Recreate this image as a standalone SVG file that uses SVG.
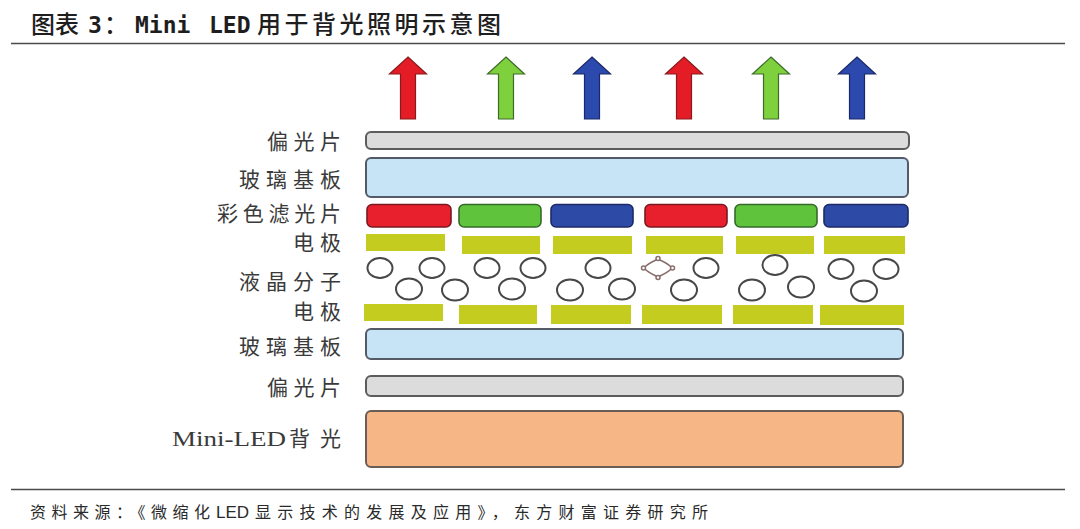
<svg xmlns="http://www.w3.org/2000/svg" xmlns:xlink="http://www.w3.org/1999/xlink" width="1080" height="529" viewBox="0 0 1080 529">
<style>
.title{font-family:"Noto Sans CJK SC","Liberation Sans",sans-serif;font-size:24px;font-weight:500;fill:#1e1e1e}
.tl{font-family:"DejaVu Sans Mono","Liberation Mono",monospace;font-size:23px;font-weight:700;fill:#1e1e1e}
.lbl{font-family:"Noto Sans CJK SC",sans-serif;font-size:21px;fill:#3a3a3a}
.lat{font-family:"Liberation Serif","Noto Sans CJK SC",serif;font-size:22px;fill:#3a3a3a}
.foot{font-family:"Noto Sans CJK SC","Liberation Sans",sans-serif;font-size:16px;fill:#2a2a2a}
.fl{font-family:"Liberation Sans Narrow","Liberation Sans",sans-serif;font-size:17px;fill:#2a2a2a}
.pol{fill:#dcdcdc;stroke:#5c5c5c;stroke-width:2}
.glass{fill:#c7e3f6;stroke:#555b66;stroke-width:2}
.back{fill:#f6b686;stroke:#6a5d55;stroke-width:2}
.cr{fill:#e8202e;stroke:#7a1a20;stroke-width:1.6}
.cg{fill:#5fc43c;stroke:#356a2a;stroke-width:1.6}
.cb{fill:#2d4aa6;stroke:#1d2a66;stroke-width:1.6}
.el{fill:#c3cc1f}
.lc{fill:#fff;stroke:#474747;stroke-width:2}
.ar{fill:#e31c25;stroke:#8b1a1f;stroke-width:1.2}
.ag{fill:#7ed03c;stroke:#3e6b2b;stroke-width:1.2}
.ab{fill:#2c49ae;stroke:#1b2968;stroke-width:1.2}
.rule{stroke:#4a4a4a;stroke-width:1.5}
</style>
<defs>
<path id="arrow" d="M0,57 L18.5,74 L7.5,74 L7.5,119 L-7.5,119 L-7.5,74 L-18.5,74 Z"/>
</defs>
<rect width="1080" height="529" fill="#fff"/>

<g id="title">
<text y="33"><tspan class="title" x="31" textLength="48" lengthAdjust="spacing">图表</tspan><tspan class="tl" x="88">3</tspan><tspan class="title" x="104">：</tspan><tspan class="tl" x="135">Mini</tspan><tspan class="tl" x="209">LED</tspan><tspan class="title" x="257" textLength="244" lengthAdjust="spacing">用于背光照明示意图</tspan></text>
<line class="rule" x1="11" y1="43.5" x2="1065" y2="43.5"/>
</g>

<g id="light-arrows">
<use xlink:href="#arrow" x="408" class="ar"/>
<use xlink:href="#arrow" x="506" class="ag"/>
<use xlink:href="#arrow" x="592" class="ab"/>
<use xlink:href="#arrow" x="684" class="ar"/>
<use xlink:href="#arrow" x="771" class="ag"/>
<use xlink:href="#arrow" x="857" class="ab"/>
</g>

<g id="polarizer-top">
<text class="lbl" x="341" y="149" text-anchor="end" textLength="74" lengthAdjust="spacing">偏光片</text>
<rect class="pol" x="366" y="132" width="543" height="17" rx="5"/>
</g>

<g id="glass-top">
<text class="lbl" x="341" y="187" text-anchor="end" textLength="102" lengthAdjust="spacing">玻璃基板</text>
<rect class="glass" x="366" y="158" width="542" height="39" rx="5"/>
</g>

<g id="color-filter">
<text class="lbl" x="341" y="221" text-anchor="end" textLength="124" lengthAdjust="spacing">彩色滤光片</text>
<rect class="cr" x="367" y="204.5" width="84" height="22.5" rx="5"/>
<rect class="cg" x="459" y="204.5" width="82" height="22.5" rx="5"/>
<rect class="cb" x="551" y="204.5" width="82" height="22.5" rx="5"/>
<rect class="cr" x="645" y="204.5" width="82" height="22.5" rx="5"/>
<rect class="cg" x="735" y="204.5" width="82" height="22.5" rx="5"/>
<rect class="cb" x="824" y="204.5" width="84" height="22.5" rx="5"/>
</g>

<g id="electrode-top">
<text class="lbl" x="341" y="250" text-anchor="end" textLength="48" lengthAdjust="spacing">电极</text>
<rect class="el" x="366" y="234" width="79" height="17"/>
<rect class="el" x="462" y="236" width="78" height="18"/>
<rect class="el" x="553" y="236" width="79" height="18"/>
<rect class="el" x="646" y="236" width="77" height="18"/>
<rect class="el" x="736" y="236" width="78" height="18"/>
<rect class="el" x="824" y="236" width="81" height="18"/>
</g>

<g id="liquid-crystal">
<text class="lbl" x="341" y="289" text-anchor="end" textLength="102" lengthAdjust="spacing">液晶分子</text>
<ellipse class="lc" cx="380" cy="268" rx="12.5" ry="10"/>
<ellipse class="lc" cx="432" cy="268" rx="12.5" ry="10"/>
<ellipse class="lc" cx="487" cy="268" rx="12.5" ry="10"/>
<ellipse class="lc" cx="533" cy="268" rx="12.5" ry="10"/>
<ellipse class="lc" cx="598" cy="268" rx="12.5" ry="10"/>
<ellipse class="lc" cx="706" cy="268" rx="12.5" ry="10"/>
<ellipse class="lc" cx="775" cy="265" rx="12.5" ry="10"/>
<ellipse class="lc" cx="841" cy="269" rx="12.5" ry="10"/>
<ellipse class="lc" cx="886" cy="269" rx="12.5" ry="10"/>
<ellipse class="lc" cx="409" cy="289" rx="13" ry="10.5"/>
<ellipse class="lc" cx="455" cy="290" rx="13" ry="10.5"/>
<ellipse class="lc" cx="512" cy="289" rx="13" ry="10.5"/>
<ellipse class="lc" cx="570" cy="290" rx="13" ry="10.5"/>
<ellipse class="lc" cx="622" cy="289" rx="13" ry="10.5"/>
<ellipse class="lc" cx="684" cy="290" rx="13" ry="10.5"/>
<ellipse class="lc" cx="752" cy="290" rx="13" ry="10.5"/>
<ellipse class="lc" cx="801" cy="287" rx="13" ry="10.5"/>
<ellipse class="lc" cx="864" cy="291" rx="13" ry="10.5"/>
<g fill="#fff" stroke="#8a6d6d" stroke-width="1.5">
<path d="M658,259 C664,262 669,264 672,268 C669,272 664,274 658,277 C652,274 647,272 644,268 C647,264 652,262 658,259 Z"/>
<circle cx="658" cy="258.5" r="2"/>
<circle cx="658" cy="277.5" r="2"/>
<circle cx="643.5" cy="268" r="2"/>
<circle cx="672.5" cy="268" r="2"/>
</g>
</g>

<g id="electrode-bottom">
<text class="lbl" x="341" y="319" text-anchor="end" textLength="48" lengthAdjust="spacing">电极</text>
<rect class="el" x="364" y="304" width="79" height="17"/>
<rect class="el" x="459" y="305" width="78" height="19"/>
<rect class="el" x="551" y="305" width="80" height="19"/>
<rect class="el" x="642" y="305" width="80" height="19"/>
<rect class="el" x="733" y="305" width="80" height="19"/>
<rect class="el" x="820" y="305" width="84" height="20"/>
</g>

<g id="glass-bottom">
<text class="lbl" x="341" y="354" text-anchor="end" textLength="102" lengthAdjust="spacing">玻璃基板</text>
<rect class="glass" x="366" y="329" width="537" height="30" rx="5"/>
</g>

<g id="polarizer-bottom">
<text class="lbl" x="341" y="395" text-anchor="end" textLength="74" lengthAdjust="spacing">偏光片</text>
<rect class="pol" x="366" y="376" width="537" height="20" rx="5"/>
</g>

<g id="mini-led-backlight">
<text class="lat" x="172" y="446" textLength="114" lengthAdjust="spacingAndGlyphs">Mini-LED</text>
<text class="lbl" x="341" y="446" text-anchor="end" textLength="52" lengthAdjust="spacing">背光</text>
<rect class="back" x="366" y="411" width="537" height="56" rx="5"/>
</g>

<g id="footer">
<line class="rule" x1="11" y1="489.5" x2="1065" y2="489.5"/>
<text class="foot" x="30" y="518" textLength="180" lengthAdjust="spacing">资料来源：《微缩化</text>
<text class="fl" x="216" y="518">LED</text>
<text class="foot" x="255" y="518" textLength="453" lengthAdjust="spacing">显示技术的发展及应用》，东方财富证券研究所</text>
</g>
</svg>
